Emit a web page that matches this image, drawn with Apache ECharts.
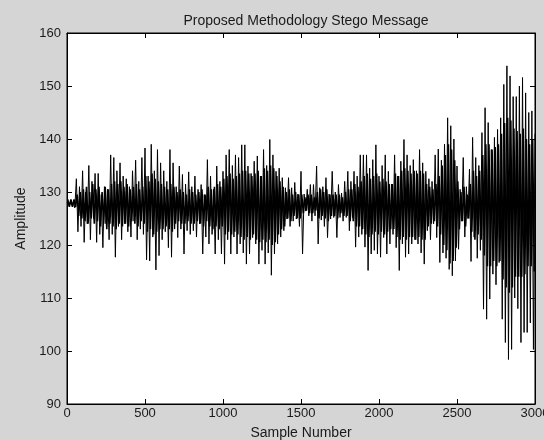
<!DOCTYPE html>
<html>
<head>
<meta charset="utf-8">
<script src="https://cdn.jsdelivr.net/npm/echarts@6/dist/echarts.min.js"></script>
<style>
html,body{margin:0;padding:0;background:#d5d5d5;}
#chart{width:544px;height:440px;}
</style>
</head>
<body>
<div id="chart"></div>
<script>
// Sample spacing of the hand-read values (samples)
var sampleStep = 10;
// Outer extremes, alternating peak / trough, one every 10 samples (from sample 0)
var amplitude = [
  128, 127.5, 128, 127.5, 128, 127, 132.5, 122.5, 131, 123.5,
  134, 120.5, 130, 124, 135, 121, 132, 125, 133.5, 120.5,
  133.5, 122, 129.5, 119.5, 131, 124, 130.5, 121, 137, 122,
  136.5, 117.7, 134, 123.5, 135.5, 121, 133, 124, 132.5, 122.5,
  131, 121.5, 134, 124.5, 136, 121, 132, 123, 136.5, 122,
  138.3, 117.2, 133, 117, 139, 121.5, 134, 115.3, 138, 118,
  135.5, 121, 134, 122.5, 132, 119.5, 138, 117.7, 135.5, 123,
  131, 121.4, 134.9, 123, 133.3, 118.3, 131.5, 122.7, 133.8, 122,
  131, 122.7, 133, 121.5, 130.5, 124, 131.4, 118.3, 129.5, 121.5,
  136.1, 120.2, 133, 122, 130.5, 118.3, 134.9, 121, 132, 118.3,
  133.9, 116.4, 137, 121, 138, 118.3, 135, 121.5, 137, 118.3,
  136.5, 120.2, 138.9, 118.5, 138.9, 116.4, 134.9, 118.3, 133.5, 121.4,
  135.8, 120.2, 136.8, 116.4, 133, 119, 138, 116.4, 135, 118.5,
  139.9, 114.3, 137, 118.3, 133.9, 120.2, 134.5, 121.5, 132.7, 122.7,
  130.8, 124.9, 132.7, 123.5, 130.8, 124.5, 131.8, 124.9, 129.6, 123.5,
  133.9, 118.3, 129.6, 126.4, 130.5, 125.5, 131.4, 124.5, 131.4, 125.5,
  134.9, 120.2, 130.8, 124.7, 131, 123.5, 132.7, 121.4, 129.6, 124.9,
  133.9, 125.2, 130, 121.4, 131.4, 125.2, 129.8, 124.5, 132, 125.2,
  133.9, 122.7, 132, 125.2, 133.9, 119.6, 133, 121.5, 137, 122,
  137, 119.6, 137, 115.2, 134.5, 118.3, 136.1, 119, 138.9, 118.3,
  133, 117.7, 135, 121.4, 137, 118.3, 133.9, 120.2, 131.5, 122,
  137, 119.5, 133, 115.2, 135.8, 120.2, 139.9, 117.7, 137, 118.3,
  135, 120.2, 136.1, 121, 134, 120.2, 138, 118.5, 135.5, 116.4,
  133.9, 122.7, 132.5, 121, 132, 124, 137, 121.4, 138.1, 116.7,
  136, 118.5, 139, 117.5, 144, 115.4, 142.5, 114.2, 140, 117,
  134.9, 119.2, 130.5, 124.5, 136.5, 121.5, 131, 125, 134.3, 116.9,
  140.3, 121.5, 136.5, 117.5, 135, 119, 141.2, 107.9, 145.9, 106,
  143.1, 109.8, 138, 114.5, 140.3, 112.5, 141.8, 116.7, 144, 106,
  150.3, 101.6, 153.8, 98.4, 151.9, 100.3, 148, 110, 148, 108,
  150, 101.6, 151.6, 103.5, 148.7, 103.5, 145, 105.3, 145.3, 100.3,
  141
];
// Dense inner (black core) oscillation, alternating high / low, one every 10 samples (from sample 5)
var coreAmplitude = [
  128.6, 127.2, 128.6, 127.2, 128.6, 127.2, 129.5, 125.5, 130, 125,
  130.5, 124.5, 131, 124, 130, 125, 131.5, 124, 130.5, 124.5,
  131, 123.5, 130, 124, 131, 123, 130.5, 124, 131.5, 123.5,
  132, 123, 131.5, 124, 132, 123.5, 131, 124, 131.5, 123.5,
  130.5, 124.5, 131, 124, 131.5, 123.5, 130.5, 124.5, 131, 124,
  133, 122.5, 132, 123, 133.5, 122, 132.5, 122.5, 132, 123,
  131.5, 123, 131, 123.5, 130.5, 123, 131.5, 122.5, 131, 124,
  130, 124.5, 130.5, 124, 130, 124, 129.5, 124.5, 130.5, 124,
  130, 124, 129.5, 124.5, 130, 124, 130.5, 123.5, 129.5, 124.5,
  131, 123.5, 130.5, 123, 131, 123.5, 131.5, 123, 131, 123.5,
  132.5, 122, 133, 122.5, 133.5, 122, 132.5, 122.5, 133, 122,
  133.5, 121.5, 134, 121, 134, 121.5, 133.5, 121, 133, 122,
  133.5, 121, 134, 120.5, 133, 121, 134.5, 120.5, 134, 121,
  135, 120, 134.5, 120.5, 133, 122, 132, 123, 131, 123.5,
  130, 125, 130.5, 124.5, 129.5, 125.5, 130, 125, 129.5, 125,
  129.5, 126, 129, 126.5, 129.5, 126, 129.5, 126, 129, 126.5,
  130, 125, 130.5, 125.5, 130, 125, 130.5, 124.5, 129.5, 125.5,
  129.5, 125.5, 129.5, 125, 129.5, 126, 129, 125.5, 130, 125.5,
  130.5, 124.5, 130.5, 124.5, 131.5, 123.5, 131, 123.5, 132, 123,
  133, 122, 133.5, 121.5, 132.5, 122, 133, 122.5, 133.5, 122,
  132, 122.5, 132.5, 122, 132, 122.5, 131.5, 123, 131.5, 123,
  133.5, 121.5, 133, 121, 134, 121.5, 134.5, 121, 134, 121.5,
  133.5, 121.5, 134, 121, 133.5, 121.5, 134, 121, 133.5, 121,
  131.5, 123.5, 131, 124, 130.5, 124.5, 131.5, 123.5, 133, 122,
  135, 120, 137, 119, 139, 116.5, 138, 117, 136, 119.5,
  132, 123, 130, 124.5, 131, 123.5, 129.5, 125, 131.5, 122.5,
  134, 121, 133, 122, 134, 121, 137, 118, 139, 116,
  139, 116, 138, 117, 138.5, 116, 139, 117, 141, 113.5,
  143, 112, 144, 111, 143.5, 112, 142, 114, 141.5, 114,
  141, 114, 142, 114.5, 140, 116, 139, 116, 140, 115
];
var xTicks = [0, 500, 1000, 1500, 2000, 2500, 3000];
var yTicks = [90, 100, 110, 120, 130, 140, 150, 160];

var outerPoints = amplitude.map(function (v, i) { return [i * sampleStep, v]; });
var corePoints = coreAmplitude.map(function (v, i) { return [i * sampleStep + sampleStep / 2, v]; });

var font = 'Liberation Sans, Arial, sans-serif';
var txt = '#1a1a1a';
var chart = echarts.init(document.getElementById('chart'), null, {renderer: 'canvas'});
function ticks() {
  return {show: true, inside: true, length: 5, lineStyle: {color: '#000', width: 1}};
}
function line() {
  return {show: true, onZero: false, lineStyle: {color: '#000', width: 1}};
}
chart.setOption({
  backgroundColor: '#d5d5d5',
  animation: false,
  title: {
    text: 'Proposed Methodology Stego Message',
    left: 301, top: 9, textAlign: 'center',
    textStyle: {fontFamily: font, fontSize: 14, fontWeight: 'normal', color: txt}
  },
  grid: {left: 67, right: 9, top: 33, bottom: 36, show: true, backgroundColor: '#ffffff',
         borderColor: '#000', borderWidth: 1, containLabel: false, outerBoundsMode: 'none'},
  xAxis: [
    {
      type: 'value', min: xTicks[0], max: xTicks[xTicks.length - 1], interval: 500, position: 'bottom',
      name: 'Sample Number', nameLocation: 'middle', nameGap: 22,
      nameTextStyle: {fontFamily: font, fontSize: 14, color: txt},
      axisLabel: {fontFamily: font, fontSize: 13, color: txt, margin: 3, formatter: function (v) { return String(v); }},
      axisLine: line(), axisTick: ticks(), splitLine: {show: false}
    },
    {
      type: 'value', min: xTicks[0], max: xTicks[xTicks.length - 1], interval: 500, position: 'top',
      axisLabel: {show: false}, axisLine: line(), axisTick: ticks(), splitLine: {show: false}
    }
  ],
  yAxis: [
    {
      type: 'value', min: yTicks[0], max: yTicks[yTicks.length - 1], interval: 10, position: 'left',
      name: 'Amplitude', nameLocation: 'middle', nameGap: 38, nameRotate: 90,
      nameTextStyle: {fontFamily: font, fontSize: 14, color: txt},
      axisLabel: {fontFamily: font, fontSize: 13, color: txt, margin: 6},
      axisLine: line(), axisTick: ticks(), splitLine: {show: false}
    },
    {
      type: 'value', min: yTicks[0], max: yTicks[yTicks.length - 1], interval: 10, position: 'right',
      axisLabel: {show: false}, axisLine: line(), axisTick: ticks(), splitLine: {show: false}
    }
  ],
  series: [
    {
      type: 'line', data: outerPoints, xAxisIndex: 0, yAxisIndex: 0,
      showSymbol: false, symbol: 'none', sampling: null, clip: true,
      lineStyle: {color: '#000', width: 1}
    },
    {
      type: 'line', data: corePoints, xAxisIndex: 0, yAxisIndex: 0,
      showSymbol: false, symbol: 'none', sampling: null, clip: true,
      lineStyle: {color: '#000', width: 1.6}
    }
  ]
});
</script>
</body>
</html>
